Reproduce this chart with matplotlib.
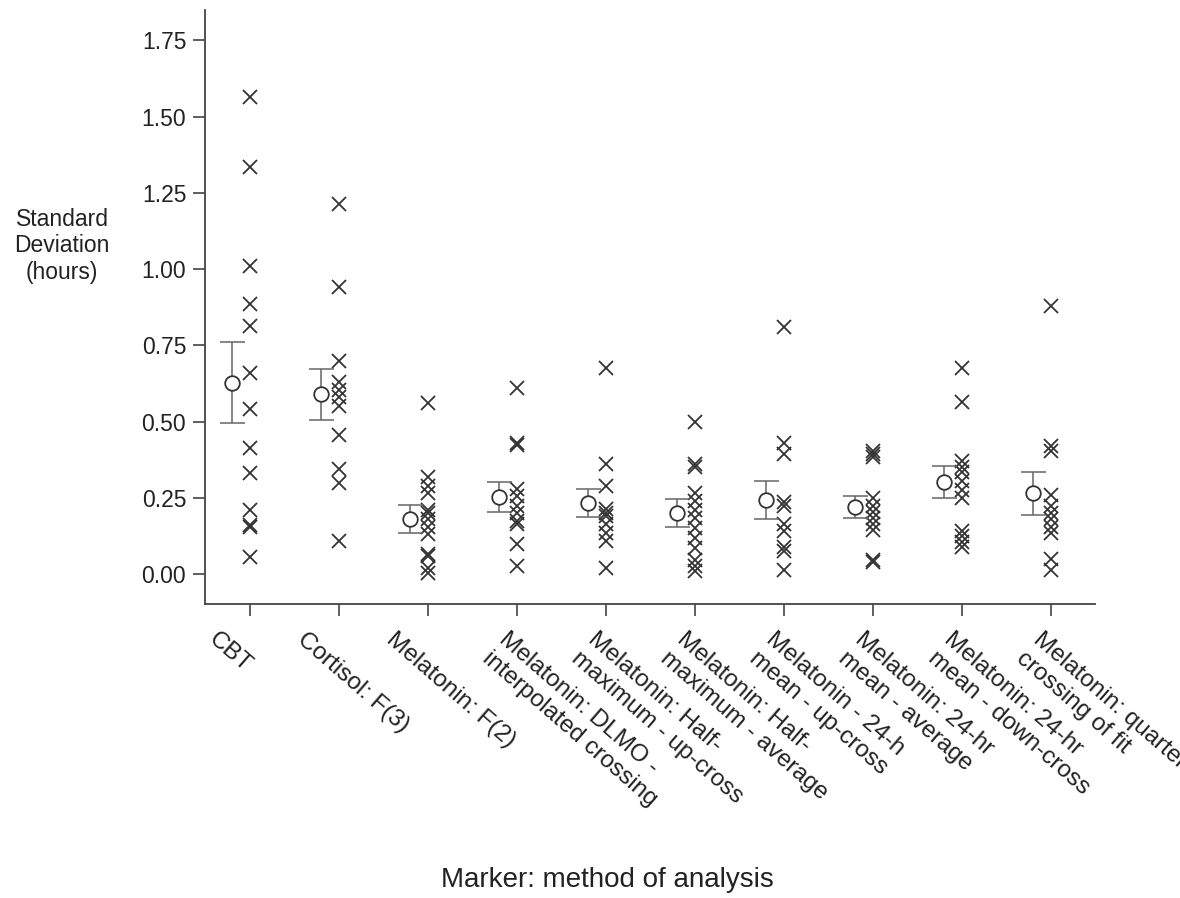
import matplotlib
matplotlib.use("Agg")
import matplotlib.pyplot as plt
import matplotlib.transforms as mtransforms

plt.rcParams['font.family'] = ['Liberation Sans', 'DejaVu Sans']

methods = [
    "CBT",
    "Cortisol: F(3)",
    "Melatonin: F(2)",
    "Melatonin: DLMO -\ninterpolated crossing",
    "Melatonin: Half-\nmaximum - up-cross",
    "Melatonin: Half-\nmaximum - average",
    "Melatonin - 24-h\nmean - up-cross",
    "Melatonin: 24-hr\nmean - average",
    "Melatonin: 24-hr\nmean - down-cross",
    "Melatonin: quarter-\ncrossing of fit",
]

# individual subject standard deviations (hours)
cbt = [1.565, 1.335, 1.01, 0.885, 0.815, 0.66, 0.54, 0.415, 0.33, 0.21, 0.16, 0.155, 0.055]
cortisol_f3 = [1.215, 0.94, 0.70, 0.63, 0.605, 0.58, 0.55, 0.455, 0.345, 0.30, 0.11]
mel_f2 = [0.56, 0.32, 0.29, 0.265, 0.21, 0.20, 0.18, 0.155, 0.13, 0.065, 0.06, 0.02, 0.005]
mel_dlmo = [0.61, 0.43, 0.425, 0.28, 0.255, 0.225, 0.20, 0.175, 0.165, 0.10, 0.025]
mel_half_up = [0.675, 0.36, 0.29, 0.215, 0.20, 0.19, 0.165, 0.135, 0.11, 0.02]
mel_half_avg = [0.50, 0.36, 0.35, 0.265, 0.24, 0.21, 0.185, 0.15, 0.12, 0.085, 0.045, 0.025, 0.01]
mel_24h_up = [0.81, 0.43, 0.395, 0.235, 0.225, 0.165, 0.14, 0.09, 0.075, 0.015]
mel_24h_avg = [0.405, 0.395, 0.385, 0.25, 0.225, 0.205, 0.185, 0.165, 0.145, 0.045, 0.04]
mel_24h_down = [0.675, 0.565, 0.37, 0.35, 0.335, 0.305, 0.275, 0.25, 0.14, 0.125, 0.105, 0.09]
mel_quarter = [0.88, 0.42, 0.405, 0.26, 0.225, 0.20, 0.18, 0.155, 0.135, 0.05, 0.015]

all_sd = [cbt, cortisol_f3, mel_f2, mel_dlmo, mel_half_up, mel_half_avg,
          mel_24h_up, mel_24h_avg, mel_24h_down, mel_quarter]

# group mean and error bar half-width
means = [0.628, 0.59, 0.18, 0.253, 0.233, 0.20, 0.243, 0.22, 0.303, 0.265]
errs = [0.132, 0.084, 0.046, 0.048, 0.047, 0.045, 0.062, 0.035, 0.052, 0.071]

fig = plt.figure(figsize=(11.8, 8.98), dpi=100)
ax = fig.add_axes([205 / 1180, 1 - 604 / 898, 890 / 1180, 594 / 898])

dark = '#333333'

for i, vals in enumerate(all_sd):
    ax.plot([i] * len(vals), vals, 'x', color=dark, markersize=9.5, markeredgewidth=1.3)

offset = 0.2
xm = [i - offset for i in range(len(means))]
ax.errorbar(xm, means, yerr=errs, fmt='none', ecolor='#666666', elinewidth=1.1,
            capsize=9, capthick=1.1)
ax.plot(xm, means, 'o', markersize=10.5, markerfacecolor='white',
        markeredgecolor=dark, markeredgewidth=1.3)

ax.set_xlim(-0.5, 9.5)
ax.set_ylim(-0.098, 1.85)
ax.set_yticks([0, 0.25, 0.5, 0.75, 1.0, 1.25, 1.5, 1.75])
ax.set_yticklabels(['0.00', '0.25', '0.50', '0.75', '1.00', '1.25', '1.50', '1.75'])
ax.set_xticks(range(len(methods)))
ax.set_xticklabels([])

# slanted category labels; one-line labels sit further left of their tick
for i, name in enumerate(methods):
    dx = -0.07 if '\n' in name else -0.31
    tr = ax.get_xaxis_transform() + mtransforms.ScaledTranslation(dx, -0.245, fig.dpi_scale_trans)
    ax.text(i, 0, name, transform=tr, rotation=-41, ha='left', va='top',
            rotation_mode='anchor', multialignment='left', fontsize=17.5,
            color='#222222', clip_on=False)

ax.tick_params(axis='both', direction='out', length=8.5, width=1.2, color='#444444',
               labelsize=16.5, labelcolor='#222222')
ax.tick_params(axis='y', pad=5)

for side in ['top', 'right']:
    ax.spines[side].set_visible(False)
for side in ['left', 'bottom']:
    ax.spines[side].set_color('#444444')
    ax.spines[side].set_linewidth(1.3)

fig.text(62 / 1180, 1 - 246 / 898, "Standard\nDeviation\n(hours)", ha='center', va='center',
         multialignment='center', fontsize=16.5, color='#222222')
fig.text(607 / 1180, 1 - 880 / 898, "Marker: method of analysis", ha='center', va='center',
         fontsize=20, color='#222222')

fig.savefig('out.png', dpi=100)
